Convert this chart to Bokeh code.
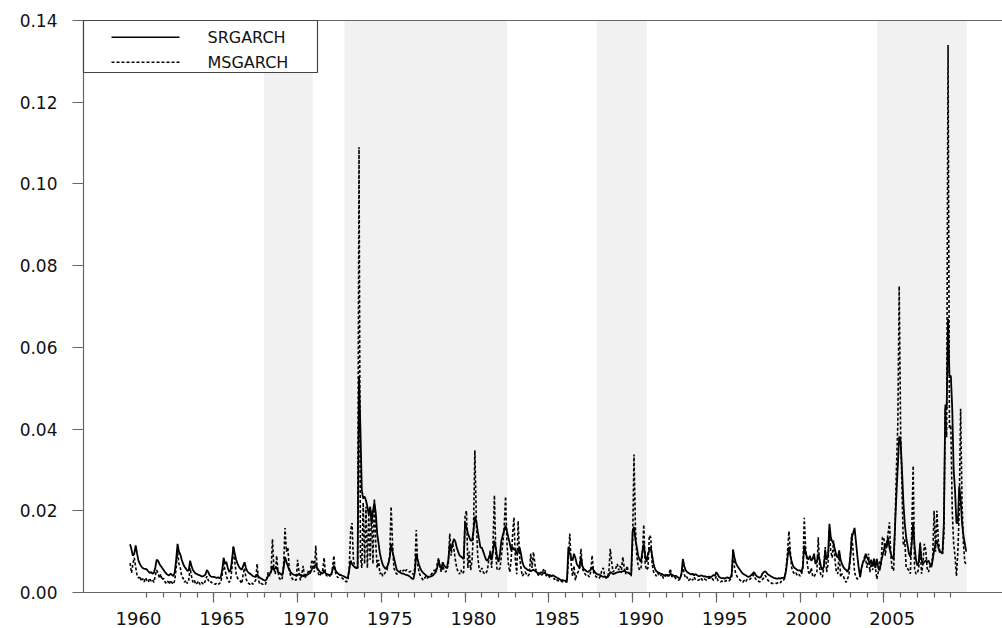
from bokeh.plotting import figure
from bokeh.layouts import column
from bokeh.models import (BoxAnnotation, FixedTicker, LinearAxis, NumeralTickFormatter,
                          Range1d, ColumnDataSource)
from bokeh.core.properties import value
from bokeh.embed import file_html
from bokeh.resources import INLINE

# Monthly conditional variance estimates, January 1960 to December 2009 (one row per year)
START_YEAR = 1960

srgarch = [
    0.0118, 0.0105, 0.0090, 0.0095, 0.0115, 0.0095, 0.0078, 0.0070, 0.0064, 0.0060, 0.0058, 0.0058,  # 1960
    0.0056, 0.0052, 0.0048, 0.0050, 0.0046, 0.0048, 0.0060, 0.0080, 0.0078, 0.0070, 0.0065, 0.0060,  # 1961
    0.0055, 0.0050, 0.0046, 0.0043, 0.0042, 0.0046, 0.0043, 0.0040, 0.0050, 0.0080, 0.0119, 0.0100,  # 1962
    0.0093, 0.0080, 0.0070, 0.0063, 0.0058, 0.0053, 0.0054, 0.0078, 0.0065, 0.0055, 0.0050, 0.0046,  # 1963
    0.0045, 0.0043, 0.0042, 0.0040, 0.0039, 0.0041, 0.0044, 0.0055, 0.0050, 0.0042, 0.0039, 0.0038,  # 1964
    0.0038, 0.0037, 0.0036, 0.0037, 0.0035, 0.0038, 0.0055, 0.0085, 0.0070, 0.0075, 0.0060, 0.0050,  # 1965
    0.0055, 0.0080, 0.0111, 0.0095, 0.0080, 0.0070, 0.0063, 0.0058, 0.0056, 0.0065, 0.0074, 0.0060,  # 1966
    0.0052, 0.0048, 0.0046, 0.0043, 0.0040, 0.0039, 0.0038, 0.0045, 0.0039, 0.0036, 0.0034, 0.0032,  # 1967
    0.0030, 0.0029, 0.0034, 0.0042, 0.0045, 0.0050, 0.0065, 0.0055, 0.0060, 0.0062, 0.0050, 0.0048,  # 1968
    0.0045, 0.0042, 0.0060, 0.0087, 0.0075, 0.0065, 0.0055, 0.0050, 0.0046, 0.0044, 0.0043, 0.0042,  # 1969
    0.0043, 0.0045, 0.0043, 0.0042, 0.0040, 0.0042, 0.0044, 0.0043, 0.0046, 0.0048, 0.0055, 0.0065,  # 1970
    0.0060, 0.0070, 0.0060, 0.0055, 0.0050, 0.0048, 0.0046, 0.0055, 0.0047, 0.0045, 0.0044, 0.0043,  # 1971
    0.0043, 0.0055, 0.0066, 0.0055, 0.0050, 0.0046, 0.0044, 0.0043, 0.0041, 0.0040, 0.0038, 0.0036,  # 1972
    0.0036, 0.0055, 0.0078, 0.0070, 0.0065, 0.0062, 0.0060, 0.0060, 0.0530, 0.0400, 0.0250, 0.0230,  # 1973
    0.0235, 0.0225, 0.0210, 0.0190, 0.0210, 0.0168, 0.0200, 0.0220, 0.0195, 0.0144, 0.0120, 0.0095,  # 1974
    0.0080, 0.0068, 0.0062, 0.0058, 0.0062, 0.0070, 0.0085, 0.0119, 0.0100, 0.0085, 0.0070, 0.0056,  # 1975
    0.0052, 0.0050, 0.0048, 0.0046, 0.0046, 0.0044, 0.0043, 0.0042, 0.0040, 0.0037, 0.0034, 0.0033,  # 1976
    0.0050, 0.0095, 0.0080, 0.0068, 0.0058, 0.0052, 0.0048, 0.0045, 0.0042, 0.0039, 0.0038, 0.0039,  # 1977
    0.0040, 0.0042, 0.0046, 0.0050, 0.0060, 0.0078, 0.0065, 0.0058, 0.0074, 0.0065, 0.0062, 0.0060,  # 1978
    0.0080, 0.0119, 0.0105, 0.0120, 0.0131, 0.0125, 0.0110, 0.0100, 0.0091, 0.0088, 0.0085, 0.0082,  # 1979
    0.0172, 0.0160, 0.0145, 0.0135, 0.0127, 0.0127, 0.0150, 0.0186, 0.0175, 0.0150, 0.0130, 0.0110,  # 1980
    0.0110, 0.0100, 0.0090, 0.0080, 0.0078, 0.0085, 0.0095, 0.0080, 0.0100, 0.0127, 0.0110, 0.0085,  # 1981
    0.0075, 0.0095, 0.0127, 0.0140, 0.0152, 0.0164, 0.0150, 0.0135, 0.0120, 0.0103, 0.0111, 0.0105,  # 1982
    0.0105, 0.0095, 0.0100, 0.0111, 0.0095, 0.0075, 0.0065, 0.0060, 0.0058, 0.0055, 0.0055, 0.0052,  # 1983
    0.0054, 0.0056, 0.0053, 0.0050, 0.0048, 0.0046, 0.0048, 0.0049, 0.0047, 0.0048, 0.0045, 0.0044,  # 1984
    0.0043, 0.0042, 0.0040, 0.0042, 0.0040, 0.0038, 0.0036, 0.0034, 0.0032, 0.0030, 0.0030, 0.0029,  # 1985
    0.0029, 0.0029, 0.0111, 0.0095, 0.0085, 0.0078, 0.0095, 0.0085, 0.0070, 0.0065, 0.0060, 0.0087,  # 1986
    0.0065, 0.0058, 0.0055, 0.0052, 0.0050, 0.0053, 0.0056, 0.0062, 0.0055, 0.0050, 0.0046, 0.0044,  # 1987
    0.0044, 0.0042, 0.0040, 0.0038, 0.0040, 0.0038, 0.0037, 0.0042, 0.0050, 0.0048, 0.0045, 0.0046,  # 1988
    0.0048, 0.0049, 0.0050, 0.0051, 0.0050, 0.0052, 0.0053, 0.0051, 0.0049, 0.0048, 0.0046, 0.0044,  # 1989
    0.0150, 0.0160, 0.0130, 0.0111, 0.0090, 0.0080, 0.0075, 0.0100, 0.0119, 0.0090, 0.0075, 0.0095,  # 1990
    0.0103, 0.0111, 0.0090, 0.0070, 0.0058, 0.0052, 0.0050, 0.0048, 0.0046, 0.0045, 0.0043, 0.0042,  # 1991
    0.0042, 0.0043, 0.0040, 0.0046, 0.0044, 0.0042, 0.0040, 0.0041, 0.0038, 0.0036, 0.0035, 0.0045,  # 1992
    0.0082, 0.0065, 0.0055, 0.0050, 0.0048, 0.0046, 0.0044, 0.0046, 0.0042, 0.0045, 0.0043, 0.0040,  # 1993
    0.0040, 0.0042, 0.0041, 0.0039, 0.0040, 0.0038, 0.0038, 0.0039, 0.0037, 0.0040, 0.0043, 0.0041,  # 1994
    0.0050, 0.0044, 0.0038, 0.0036, 0.0035, 0.0035, 0.0034, 0.0036, 0.0037, 0.0035, 0.0036, 0.0045,  # 1995
    0.0103, 0.0085, 0.0072, 0.0065, 0.0060, 0.0055, 0.0050, 0.0046, 0.0044, 0.0042, 0.0040, 0.0038,  # 1996
    0.0040, 0.0042, 0.0046, 0.0050, 0.0044, 0.0040, 0.0038, 0.0036, 0.0038, 0.0046, 0.0050, 0.0052,  # 1997
    0.0048, 0.0044, 0.0042, 0.0040, 0.0038, 0.0036, 0.0035, 0.0034, 0.0034, 0.0035, 0.0034, 0.0036,  # 1998
    0.0036, 0.0038, 0.0055, 0.0085, 0.0111, 0.0090, 0.0075, 0.0065, 0.0060, 0.0058, 0.0055, 0.0054,  # 1999
    0.0054, 0.0050, 0.0065, 0.0115, 0.0095, 0.0087, 0.0080, 0.0090, 0.0078, 0.0082, 0.0095, 0.0070,  # 2000
    0.0075, 0.0095, 0.0080, 0.0062, 0.0055, 0.0065, 0.0103, 0.0080, 0.0090, 0.0168, 0.0135, 0.0125,  # 2001
    0.0119, 0.0105, 0.0090, 0.0085, 0.0103, 0.0080, 0.0070, 0.0062, 0.0058, 0.0055, 0.0050, 0.0060,  # 2002
    0.0087, 0.0135, 0.0145, 0.0158, 0.0125, 0.0090, 0.0060, 0.0038, 0.0060, 0.0074, 0.0080, 0.0095,  # 2003
    0.0085, 0.0080, 0.0070, 0.0080, 0.0065, 0.0078, 0.0060, 0.0082, 0.0060, 0.0054, 0.0075, 0.0090,  # 2004
    0.0103, 0.0120, 0.0110, 0.0135, 0.0110, 0.0095, 0.0085, 0.0082, 0.0160, 0.0240, 0.0310, 0.0382,  # 2005
    0.0370, 0.0300, 0.0220, 0.0168, 0.0135, 0.0115, 0.0095, 0.0087, 0.0120, 0.0172, 0.0115, 0.0080,  # 2006
    0.0066, 0.0074, 0.0119, 0.0080, 0.0070, 0.0075, 0.0078, 0.0074, 0.0078, 0.0070, 0.0062, 0.0080,  # 2007
    0.0103, 0.0119, 0.0127, 0.0111, 0.0099, 0.0099, 0.0095, 0.0170, 0.0450, 0.0450, 0.0670, 0.0530,  # 2008
    0.0530, 0.0450, 0.0300, 0.0250, 0.0170, 0.0170, 0.0260, 0.0230, 0.0170, 0.0140, 0.0120, 0.0100,  # 2009
]

msgarch = [
    0.0072, 0.0048, 0.0070, 0.0085, 0.0062, 0.0042, 0.0035, 0.0040, 0.0028, 0.0034, 0.0026, 0.0036,  # 1960
    0.0030, 0.0025, 0.0035, 0.0028, 0.0032, 0.0025, 0.0040, 0.0055, 0.0048, 0.0035, 0.0045, 0.0030,  # 1961
    0.0035, 0.0026, 0.0022, 0.0028, 0.0020, 0.0030, 0.0024, 0.0020, 0.0030, 0.0060, 0.0103, 0.0070,  # 1962
    0.0060, 0.0040, 0.0035, 0.0025, 0.0030, 0.0022, 0.0030, 0.0060, 0.0040, 0.0025, 0.0030, 0.0020,  # 1963
    0.0023, 0.0028, 0.0020, 0.0026, 0.0022, 0.0020, 0.0030, 0.0040, 0.0030, 0.0024, 0.0026, 0.0022,  # 1964
    0.0022, 0.0020, 0.0023, 0.0020, 0.0022, 0.0025, 0.0045, 0.0070, 0.0055, 0.0040, 0.0030, 0.0025,  # 1965
    0.0030, 0.0060, 0.0115, 0.0075, 0.0045, 0.0035, 0.0030, 0.0028, 0.0022, 0.0045, 0.0060, 0.0035,  # 1966
    0.0025, 0.0022, 0.0020, 0.0024, 0.0020, 0.0026, 0.0030, 0.0070, 0.0030, 0.0020, 0.0022, 0.0020,  # 1967
    0.0022, 0.0020, 0.0035, 0.0050, 0.0040, 0.0055, 0.0131, 0.0060, 0.0045, 0.0090, 0.0050, 0.0035,  # 1968
    0.0030, 0.0035, 0.0070, 0.0158, 0.0100, 0.0110, 0.0060, 0.0040, 0.0035, 0.0030, 0.0032, 0.0030,  # 1969
    0.0080, 0.0050, 0.0030, 0.0045, 0.0065, 0.0035, 0.0040, 0.0045, 0.0055, 0.0050, 0.0075, 0.0080,  # 1970
    0.0050, 0.0115, 0.0060, 0.0045, 0.0040, 0.0050, 0.0055, 0.0085, 0.0045, 0.0040, 0.0045, 0.0040,  # 1971
    0.0040, 0.0060, 0.0090, 0.0050, 0.0040, 0.0036, 0.0045, 0.0038, 0.0035, 0.0032, 0.0028, 0.0026,  # 1972
    0.0030, 0.0060, 0.0150, 0.0170, 0.0080, 0.0060, 0.0065, 0.0060, 0.1090, 0.0090, 0.0060, 0.0220,  # 1973
    0.0070, 0.0210, 0.0060, 0.0190, 0.0080, 0.0200, 0.0070, 0.0230, 0.0120, 0.0060, 0.0080, 0.0045,  # 1974
    0.0050, 0.0040, 0.0045, 0.0050, 0.0055, 0.0070, 0.0090, 0.0210, 0.0120, 0.0060, 0.0050, 0.0045,  # 1975
    0.0046, 0.0050, 0.0055, 0.0052, 0.0055, 0.0050, 0.0056, 0.0054, 0.0050, 0.0052, 0.0048, 0.0044,  # 1976
    0.0060, 0.0153, 0.0070, 0.0050, 0.0040, 0.0035, 0.0030, 0.0035, 0.0040, 0.0035, 0.0040, 0.0042,  # 1977
    0.0045, 0.0050, 0.0055, 0.0050, 0.0070, 0.0085, 0.0060, 0.0050, 0.0065, 0.0055, 0.0050, 0.0055,  # 1978
    0.0070, 0.0144, 0.0090, 0.0120, 0.0105, 0.0080, 0.0060, 0.0050, 0.0045, 0.0055, 0.0046, 0.0050,  # 1979
    0.0190, 0.0200, 0.0060, 0.0100, 0.0055, 0.0080, 0.0150, 0.0348, 0.0180, 0.0090, 0.0060, 0.0050,  # 1980
    0.0060, 0.0050, 0.0045, 0.0048, 0.0055, 0.0080, 0.0103, 0.0060, 0.0120, 0.0238, 0.0090, 0.0055,  # 1981
    0.0055, 0.0060, 0.0090, 0.0120, 0.0160, 0.0235, 0.0120, 0.0070, 0.0050, 0.0080, 0.0140, 0.0184,  # 1982
    0.0080, 0.0045, 0.0175, 0.0090, 0.0060, 0.0040, 0.0045, 0.0050, 0.0045, 0.0040, 0.0045, 0.0095,  # 1983
    0.0060, 0.0099, 0.0070, 0.0050, 0.0045, 0.0040, 0.0050, 0.0042, 0.0055, 0.0058, 0.0040, 0.0045,  # 1984
    0.0040, 0.0035, 0.0042, 0.0038, 0.0032, 0.0035, 0.0030, 0.0028, 0.0026, 0.0028, 0.0026, 0.0025,  # 1985
    0.0026, 0.0025, 0.0080, 0.0144, 0.0070, 0.0040, 0.0065, 0.0030, 0.0045, 0.0050, 0.0060, 0.0107,  # 1986
    0.0060, 0.0050, 0.0045, 0.0040, 0.0042, 0.0038, 0.0050, 0.0091, 0.0050, 0.0042, 0.0038, 0.0035,  # 1987
    0.0035, 0.0040, 0.0055, 0.0060, 0.0040, 0.0035, 0.0038, 0.0050, 0.0107, 0.0075, 0.0050, 0.0055,  # 1988
    0.0060, 0.0070, 0.0055, 0.0065, 0.0055, 0.0087, 0.0060, 0.0045, 0.0065, 0.0050, 0.0045, 0.0040,  # 1989
    0.0120, 0.0338, 0.0160, 0.0090, 0.0065, 0.0055, 0.0060, 0.0090, 0.0166, 0.0070, 0.0055, 0.0060,  # 1990
    0.0140, 0.0135, 0.0070, 0.0050, 0.0045, 0.0040, 0.0048, 0.0042, 0.0040, 0.0046, 0.0035, 0.0036,  # 1991
    0.0046, 0.0040, 0.0044, 0.0058, 0.0040, 0.0036, 0.0038, 0.0034, 0.0032, 0.0030, 0.0034, 0.0045,  # 1992
    0.0066, 0.0045, 0.0035, 0.0038, 0.0029, 0.0032, 0.0035, 0.0030, 0.0038, 0.0032, 0.0029, 0.0030,  # 1993
    0.0032, 0.0036, 0.0030, 0.0034, 0.0032, 0.0030, 0.0034, 0.0036, 0.0032, 0.0034, 0.0030, 0.0032,  # 1994
    0.0040, 0.0030, 0.0028, 0.0026, 0.0028, 0.0025, 0.0027, 0.0029, 0.0030, 0.0028, 0.0032, 0.0035,  # 1995
    0.0107, 0.0060, 0.0045, 0.0038, 0.0035, 0.0030, 0.0028, 0.0025, 0.0030, 0.0026, 0.0032, 0.0034,  # 1996
    0.0032, 0.0036, 0.0040, 0.0044, 0.0034, 0.0030, 0.0028, 0.0026, 0.0028, 0.0032, 0.0036, 0.0042,  # 1997
    0.0036, 0.0030, 0.0026, 0.0024, 0.0022, 0.0022, 0.0023, 0.0022, 0.0024, 0.0026, 0.0024, 0.0030,  # 1998
    0.0030, 0.0035, 0.0060, 0.0100, 0.0150, 0.0100, 0.0060, 0.0050, 0.0045, 0.0048, 0.0042, 0.0045,  # 1999
    0.0040, 0.0045, 0.0060, 0.0183, 0.0105, 0.0075, 0.0050, 0.0045, 0.0060, 0.0040, 0.0038, 0.0046,  # 2000
    0.0050, 0.0135, 0.0060, 0.0040, 0.0038, 0.0060, 0.0111, 0.0050, 0.0070, 0.0152, 0.0100, 0.0085,  # 2001
    0.0127, 0.0080, 0.0050, 0.0046, 0.0100, 0.0038, 0.0046, 0.0040, 0.0030, 0.0025, 0.0034, 0.0042,  # 2002
    0.0087, 0.0144, 0.0100, 0.0050, 0.0038, 0.0033, 0.0035, 0.0038, 0.0060, 0.0070, 0.0087, 0.0080,  # 2003
    0.0060, 0.0095, 0.0050, 0.0078, 0.0055, 0.0085, 0.0060, 0.0033, 0.0050, 0.0078, 0.0065, 0.0135,  # 2004
    0.0135, 0.0090, 0.0120, 0.0144, 0.0172, 0.0090, 0.0058, 0.0054, 0.0160, 0.0300, 0.0410, 0.0750,  # 2005
    0.0400, 0.0250, 0.0115, 0.0130, 0.0060, 0.0058, 0.0054, 0.0046, 0.0150, 0.0310, 0.0058, 0.0046,  # 2006
    0.0046, 0.0060, 0.0123, 0.0046, 0.0070, 0.0119, 0.0105, 0.0060, 0.0050, 0.0065, 0.0062, 0.0090,  # 2007
    0.0200, 0.0100, 0.0200, 0.0127, 0.0103, 0.0099, 0.0095, 0.0140, 0.0460, 0.0380, 0.1340, 0.0400,  # 2008
    0.0410, 0.0200, 0.0120, 0.0090, 0.0040, 0.0100, 0.0200, 0.0450, 0.0220, 0.0120, 0.0075, 0.0068,  # 2009
]

# Shaded periods (start, end) in decimal years
shaded_periods = [(1968.0, 1970.9), (1972.8, 1982.5), (1987.85, 1990.85), (2004.6, 2009.95)]

y_ticks = [0.00, 0.02, 0.04, 0.06, 0.08, 0.10, 0.12, 0.14]
label_years = [1960, 1965, 1970, 1975, 1980, 1985, 1990, 1995, 2000, 2005]
major_tick_years = [1965, 1970, 1975, 1980, 1985, 1990, 1995, 2000, 2005]
minor_tick_years = list(range(1961, 2010))

series_names = ["SRGARCH", "MSGARCH"]

dates = [START_YEAR + i / 12 for i in range(len(srgarch))]
source = ColumnDataSource(dict(date=dates, sr=srgarch, ms=msgarch))

# ---- page layout (pixels) ----
W, H = 1002, 628
FRAME_L, FRAME_R, FRAME_T, FRAME_B = 83, 1002, 20, 592
TICK_STRIP = 12                      # room under the frame for the tick marks
MAIN_H = FRAME_B + TICK_STRIP        # height of the chart canvas
LABEL_H = H - MAIN_H                 # strip holding the year labels
PX_1960, PX_PER_YEAR = 129.6, 16.75
X0 = START_YEAR + (FRAME_L - PX_1960) / PX_PER_YEAR
X1 = START_YEAR + (FRAME_R - PX_1960) / PX_PER_YEAR
Y0, Y1 = 0.0, 0.14

AXIS_GREY = "#666666"
FONT = "DejaVu Sans"


def x_at(px):
    return X0 + (px - FRAME_L) * (X1 - X0) / (FRAME_R - FRAME_L)


def y_at(py):
    return Y1 - (py - FRAME_T) * (Y1 - Y0) / (FRAME_B - FRAME_T)


x_range = Range1d(X0, X1)

p = figure(width=W, height=MAIN_H, output_backend="svg", toolbar_location=None,
           x_range=x_range, y_range=Range1d(Y0, Y1),
           min_border_left=FRAME_L, min_border_right=W - FRAME_R,
           min_border_top=FRAME_T, min_border_bottom=TICK_STRIP)
p.outline_line_color = None
p.grid.visible = False
p.background_fill_color = "white"
p.border_fill_color = "white"

# shaded periods
for a, b in shaded_periods:
    p.add_layout(BoxAnnotation(left=a, right=b, fill_color="#f1f1f1", fill_alpha=1.0,
                               line_color=None, level="underlay"))

# series
p.line("date", "sr", source=source, line_color="black", line_width=1.8)
p.line("date", "ms", source=source, line_color="black", line_width=1.6, line_dash="3 2")

# ---- y axis ----
ya = p.yaxis[0]
ya.ticker = FixedTicker(ticks=y_ticks, minor_ticks=[])
ya.formatter = NumeralTickFormatter(format="0.00")
ya.axis_line_color = AXIS_GREY
ya.axis_line_width = 1.2
ya.major_tick_line_color = AXIS_GREY
ya.major_tick_line_width = 1.2
ya.major_tick_in = 0
ya.major_tick_out = 11
ya.minor_tick_line_color = None
ya.major_label_standoff = 15
ya.major_label_text_font = FONT
ya.major_label_text_font_size = "17px"
ya.major_label_text_color = "#111111"

# ---- x axis: year ticks only (the labels sit in the strip below) ----
xa = p.xaxis[0]
xa.ticker = FixedTicker(ticks=major_tick_years, minor_ticks=minor_tick_years)
xa.major_label_overrides = {y: "" for y in major_tick_years}
xa.major_label_text_font_size = "0px"
xa.major_label_standoff = 0
xa.axis_line_color = AXIS_GREY
xa.axis_line_width = 1.2
xa.major_tick_line_color = AXIS_GREY
xa.major_tick_line_width = 1.2
xa.minor_tick_line_color = AXIS_GREY
xa.minor_tick_line_width = 1.2
xa.major_tick_in = 0
xa.major_tick_out = 10
xa.minor_tick_in = 0
xa.minor_tick_out = 5

# top border line
top = LinearAxis(ticker=FixedTicker(ticks=[], minor_ticks=[]), axis_line_color=AXIS_GREY,
                 axis_line_width=1.2, major_tick_line_color=None, minor_tick_line_color=None,
                 major_label_text_font_size="0px", major_label_standoff=0)
p.add_layout(top, "above")

# ---- legend box in the upper-left corner ----
p.quad(left=[x_at(FRAME_L)], right=[x_at(317)], top=[y_at(FRAME_T)], bottom=[y_at(72)],
       fill_color="white", line_color="#444444", line_width=1.2, level="overlay")
row_y = [y_at(36.7), y_at(61.7)]
p.segment(x0=[x_at(111)], x1=[x_at(179)], y0=[row_y[0]], y1=[row_y[0]],
          line_color="black", line_width=1.5, level="overlay")
p.segment(x0=[x_at(111)], x1=[x_at(179)], y0=[row_y[1]], y1=[row_y[1]],
          line_color="black", line_width=1.5, line_dash="3 2", level="overlay")
p.text(x=[x_at(207)] * 2, y=row_y, text=series_names, text_font=value(FONT),
       text_font_size="16px", text_baseline="middle", text_align="left",
       text_color="#111111", level="overlay")

# ---- year labels, centred on the middle of each labelled year ----
lab = figure(width=W, height=LABEL_H, output_backend="svg", toolbar_location=None,
             x_range=x_range, y_range=Range1d(0, LABEL_H),
             min_border_left=FRAME_L, min_border_right=W - FRAME_R,
             min_border_top=0, min_border_bottom=0)
lab.axis.visible = False
lab.grid.visible = False
lab.outline_line_color = None
lab.background_fill_color = "white"
lab.border_fill_color = "white"
LABEL_CENTRE = 617.5 - MAIN_H        # pixels from the top of the strip
lab.text(x=[y + 0.5 for y in label_years], y=[LABEL_H - LABEL_CENTRE] * len(label_years),
         text=[str(y) for y in label_years], text_font=value(FONT), text_font_size="18px",
         text_color="#111111", text_align="center", text_baseline="middle")

open("out.html", "w").write(file_html(column(p, lab, spacing=0), INLINE))
